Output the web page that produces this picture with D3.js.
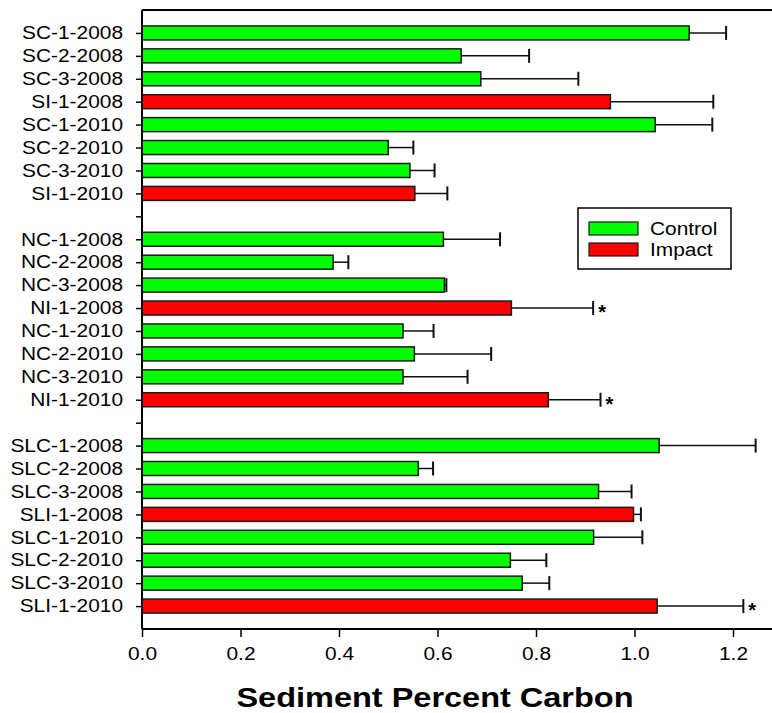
<!DOCTYPE html>
<html>
<head>
<meta charset="utf-8">
<script src="https://cdn.jsdelivr.net/npm/d3@7"></script>
<style>
  body { margin: 0; background: #fff; }
  text { font-family: "Liberation Sans", Arial, sans-serif; }
</style>
</head>
<body>
<div id="chart"></div>
<script>
var svgWidth = 772;
var svgHeight = 713;

// Data
var sites = ["SC-1-2008", "SC-2-2008", "SC-3-2008", "SI-1-2008", "SC-1-2010", "SC-2-2010", "SC-3-2010", "SI-1-2010",
    "", "NC-1-2008", "NC-2-2008", "NC-3-2008", "NI-1-2008", "NC-1-2010", "NC-2-2010", "NC-3-2010", "NI-1-2010",
    "", "SLC-1-2008", "SLC-2-2008", "SLC-3-2008", "SLI-1-2008", "SLC-1-2010", "SLC-2-2010", "SLC-3-2010", "SLI-1-2010"];
var carbon = [1.111, 0.648, 0.688, 0.951, 1.042, 0.500, 0.544, 0.554,
    null, 0.612, 0.388, 0.614, 0.750, 0.530, 0.553, 0.530, 0.825,
    null, 1.050, 0.561, 0.927, 0.998, 0.917, 0.748, 0.772, 1.046];
var stdErr = [0.075, 0.138, 0.198, 0.209, 0.116, 0.051, 0.050, 0.066,
    null, 0.115, 0.031, 0.004, 0.166, 0.062, 0.156, 0.131, 0.106,
    null, 0.196, 0.030, 0.067, 0.015, 0.099, 0.073, 0.055, 0.175];
var treatment = ["Control", "Control", "Control", "Impact", "Control", "Control", "Control", "Impact",
    null, "Control", "Control", "Control", "Impact", "Control", "Control", "Control", "Impact",
    null, "Control", "Control", "Control", "Impact", "Control", "Control", "Control", "Impact"];
var significant = ["NI-1-2008", "NI-1-2010", "SLI-1-2010"];
var xTicks = [0, 0.2, 0.4, 0.6, 0.8, 1.0, 1.2];
var legendItems = ["Control", "Impact"];

var colors = { Control: "#00ff00", Impact: "#ff0000" };
var stretch = 1.16;

var rows = sites.map(function (s, i) {
    return { site: s, slot: i + 1, value: carbon[i], err: stdErr[i], type: treatment[i] };
});
var bars = rows.filter(function (d) { return d.site !== ""; });

var margin = { top: 10, left: 142, bottom: 84 };
var plotBottom = svgHeight - margin.bottom;

var svg = d3.select("#chart")
    .append("svg")
    .attr("width", svgWidth)
    .attr("height", svgHeight);

var xScale = d3.scaleLinear()
    .domain([0, 1.28])
    .range([margin.left, margin.left + 492.5 * 1.28]);

var yScale = d3.scaleLinear()
    .domain([0, sites.length + 1])
    .range([margin.top, plotBottom]);

var barH = 14;

function widen(sel) {
    sel.attr("lengthAdjust", "spacingAndGlyphs")
        .attr("textLength", function () { return this.getComputedTextLength() * stretch; });
}

// Bars
svg.append("g").selectAll("rect")
    .data(bars)
    .enter()
    .append("rect")
    .attr("x", xScale(0))
    .attr("y", d => yScale(d.slot) - barH / 2)
    .attr("width", d => xScale(d.value) - xScale(0))
    .attr("height", barH)
    .attr("fill", d => colors[d.type])
    .attr("stroke", "#1a1a1a")
    .attr("stroke-width", 1.5);

// Error bars
var errG = svg.append("g").attr("stroke", "#111").attr("stroke-width", 1.5);
errG.selectAll("line.whisker")
    .data(bars)
    .enter()
    .append("line")
    .attr("class", "whisker")
    .attr("x1", d => xScale(d.value))
    .attr("x2", d => xScale(d.value + d.err))
    .attr("y1", d => yScale(d.slot))
    .attr("y2", d => yScale(d.slot));
errG.selectAll("line.cap")
    .data(bars)
    .enter()
    .append("line")
    .attr("class", "cap")
    .attr("stroke-width", 2)
    .attr("x1", d => xScale(d.value + d.err))
    .attr("x2", d => xScale(d.value + d.err))
    .attr("y1", d => yScale(d.slot) - barH / 2)
    .attr("y2", d => yScale(d.slot) + barH / 2);

// Significance stars
svg.append("g").selectAll("text")
    .data(bars.filter(d => significant.indexOf(d.site) >= 0))
    .enter()
    .append("text")
    .attr("x", d => xScale(d.value + d.err) + 5)
    .attr("y", d => yScale(d.slot) + 11)
    .attr("font-size", "20px")
    .attr("font-weight", "bold")
    .text("*");

// Axes
var leftAxis = d3.axisLeft(yScale)
    .tickValues(d3.range(1, sites.length + 1))
    .tickFormat(d => sites[d - 1])
    .tickSize(6)
    .tickPadding(13);

var yAxisG = svg.append("g")
    .attr("transform", `translate(${xScale(0)},0)`)
    .call(leftAxis);
yAxisG.select(".domain").remove();
yAxisG.selectAll(".tick line").attr("stroke", "#000").attr("stroke-width", 1.5);
yAxisG.selectAll(".tick text")
    .attr("font-size", "18px")
    .attr("fill", "#000")
    .attr("font-family", "Liberation Sans, Arial, sans-serif")
    .call(widen);

var bottomAxis = d3.axisBottom(xScale)
    .tickValues(xTicks)
    .tickFormat(d3.format(".1f"))
    .tickSize(8)
    .tickPadding(10);

var xAxisG = svg.append("g")
    .attr("transform", `translate(0,${plotBottom})`)
    .call(bottomAxis);
xAxisG.select(".domain").remove();
xAxisG.selectAll(".tick line").attr("stroke", "#000").attr("stroke-width", 1.5);
xAxisG.selectAll(".tick text")
    .attr("font-size", "18px")
    .attr("fill", "#000")
    .attr("font-family", "Liberation Sans, Arial, sans-serif")
    .call(widen);

// frame lines: top, left, bottom
var frame = svg.append("g").attr("stroke", "#000").attr("stroke-width", 2);
frame.append("line")
    .attr("x1", xScale(0)).attr("x2", svgWidth)
    .attr("y1", margin.top).attr("y2", margin.top);
frame.append("line")
    .attr("x1", xScale(0)).attr("x2", xScale(0))
    .attr("y1", margin.top).attr("y2", plotBottom);
frame.append("line")
    .attr("x1", xScale(0)).attr("x2", svgWidth)
    .attr("y1", plotBottom).attr("y2", plotBottom);

// Axis title
svg.append("text")
    .attr("x", (xScale(0) + svgWidth) / 2 - 22)
    .attr("y", 707)
    .attr("text-anchor", "middle")
    .attr("font-size", "28px")
    .attr("font-weight", "bold")
    .text("Sediment Percent Carbon")
    .call(widen);

// Legend
var legend = svg.append("g").attr("transform", "translate(578,208)");
legend.append("rect")
    .attr("width", 153)
    .attr("height", 61)
    .attr("fill", "#fff")
    .attr("stroke", "#000")
    .attr("stroke-width", 1.5);
var item = legend.selectAll("g.item")
    .data(legendItems)
    .enter()
    .append("g")
    .attr("class", "item")
    .attr("transform", (d, i) => `translate(11,${14 + i * 21})`);
item.append("rect")
    .attr("width", 49)
    .attr("height", 13)
    .attr("fill", d => colors[d])
    .attr("stroke", "#1a1a1a")
    .attr("stroke-width", 1.2);
item.append("text")
    .attr("x", 61)
    .attr("y", 13)
    .attr("font-size", "18px")
    .text(d => d)
    .call(widen);
</script>
</body>
</html>
